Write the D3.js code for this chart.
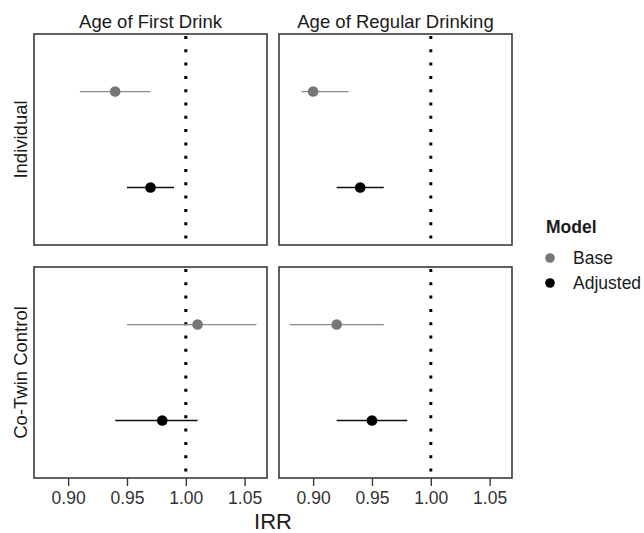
<!DOCTYPE html>
<html>
<head>
<meta charset="utf-8">
<script src="https://cdn.jsdelivr.net/npm/d3@7"></script>
<style>
  body { margin: 0; background: #fff; }
  text { font-family: "Liberation Sans", Arial, sans-serif; }
</style>
</head>
<body>
<script>
// facets: columns are outcomes, rows are designs
var outcomes = ["Age of First Drink", "Age of Regular Drinking"];
var designs = ["Individual", "Co-Twin Control"];
var models = ["Base", "Adjusted"];

// panel order: Individual/First, Individual/Regular, CoTwin/First, CoTwin/Regular
var baseEst = [0.94, 0.90, 1.01, 0.92];
var baseLo  = [0.91, 0.89, 0.95, 0.88];
var baseHi  = [0.97, 0.93, 1.06, 0.96];
var adjEst  = [0.97, 0.94, 0.98, 0.95];
var adjLo   = [0.95, 0.92, 0.94, 0.92];
var adjHi   = [0.99, 0.96, 1.01, 0.98];

var xTicks = [0.90, 0.95, 1.00, 1.05];
var xLimits = [0.88, 1.06];

var colors = { Base: "#777777", Adjusted: "#000000" };
var lineColors = { Base: "#8a8a8a", Adjusted: "#111111" };

var svg = d3.select("body").append("svg")
    .attr("width", 644).attr("height", 533);

var marginLeft = 34, marginTop = 34;
var pw = 233, ph = 211;
var gapX = 12, gapY = 22;

var pad = (xLimits[1] - xLimits[0]) * 0.05;
var x = d3.scaleLinear()
    .domain([xLimits[0] - pad, xLimits[1] + pad])
    .range([0, pw]);

var y = d3.scalePoint()
    .domain(models)
    .range([0, ph])
    .padding(0.6);

for (var r = 0; r < designs.length; r++) {
    for (var c = 0; c < outcomes.length; c++) {
        var i = r * outcomes.length + c;
        var px = marginLeft + c * (pw + gapX);
        var py = marginTop + r * (ph + gapY);
        var g = svg.append("g").attr("transform", "translate(" + px + "," + py + ")");

        g.append("rect")
            .attr("width", pw).attr("height", ph)
            .attr("fill", "white");

        // reference line at IRR = 1
        g.append("line")
            .attr("x1", x(1)).attr("x2", x(1))
            .attr("y1", 2).attr("y2", ph)
            .attr("stroke", "black")
            .attr("stroke-width", 3)
            .attr("stroke-dasharray", "3,10.3");

        var rows = [
            { model: "Base", est: baseEst[i], lo: baseLo[i], hi: baseHi[i] },
            { model: "Adjusted", est: adjEst[i], lo: adjLo[i], hi: adjHi[i] }
        ];

        rows.forEach(function(d) {
            g.append("line")
                .attr("x1", x(d.lo)).attr("x2", x(d.hi))
                .attr("y1", y(d.model)).attr("y2", y(d.model))
                .attr("stroke", lineColors[d.model])
                .attr("stroke-width", d.model == "Base" ? 1.3 : 1.6);
            g.append("circle")
                .attr("cx", x(d.est)).attr("cy", y(d.model))
                .attr("r", 5.3)
                .attr("fill", colors[d.model]);
        });

        g.append("rect")
            .attr("width", pw).attr("height", ph)
            .attr("fill", "none")
            .attr("stroke", "#3a3a3a")
            .attr("stroke-width", 1.6);

        if (r == 0) {
            svg.append("text")
                .attr("x", px + pw / 2).attr("y", 28)
                .attr("text-anchor", "middle")
                .attr("font-size", 18.5)
                .attr("fill", "#1a1a1a")
                .text(outcomes[c]);
        }
        if (c == 0) {
            svg.append("text")
                .attr("transform", "translate(27," + (py + ph / 2) + ") rotate(-90)")
                .attr("text-anchor", "middle")
                .attr("font-size", 18.5)
                .attr("fill", "#1a1a1a")
                .text(designs[r]);
        }
        if (r == designs.length - 1) {
            var ax = g.append("g")
                .attr("transform", "translate(0," + ph + ")")
                .call(d3.axisBottom(x).tickValues(xTicks).tickFormat(d3.format(".2f"))
                    .tickSizeOuter(0).tickSizeInner(8).tickPadding(6));
            ax.select(".domain").remove();
            ax.selectAll(".tick line").attr("stroke", "#3a3a3a").attr("stroke-width", 1.4);
            ax.selectAll(".tick text")
                .attr("font-family", "Liberation Sans, Arial, sans-serif")
                .attr("font-size", 17.5)
                .attr("fill", "#333");
        }
    }
}

// x axis title
svg.append("text")
    .attr("x", marginLeft + pw + gapX / 2).attr("y", 529)
    .attr("text-anchor", "middle")
    .attr("font-size", 22)
    .attr("fill", "#1a1a1a")
    .text("IRR");

// legend
var lg = svg.append("g").attr("transform", "translate(546,0)");
lg.append("text")
    .attr("x", 0).attr("y", 233)
    .attr("font-size", 17.5)
    .attr("font-weight", "bold")
    .attr("fill", "#1a1a1a")
    .text("Model");
models.forEach(function(m, k) {
    lg.append("circle")
        .attr("cx", 4).attr("cy", 258 + k * 25)
        .attr("r", 4.8)
        .attr("fill", colors[m]);
    lg.append("text")
        .attr("x", 27).attr("y", 258 + k * 25 + 6)
        .attr("font-size", 17.5)
        .attr("fill", "#1a1a1a")
        .text(m);
});
</script>
</body>
</html>
